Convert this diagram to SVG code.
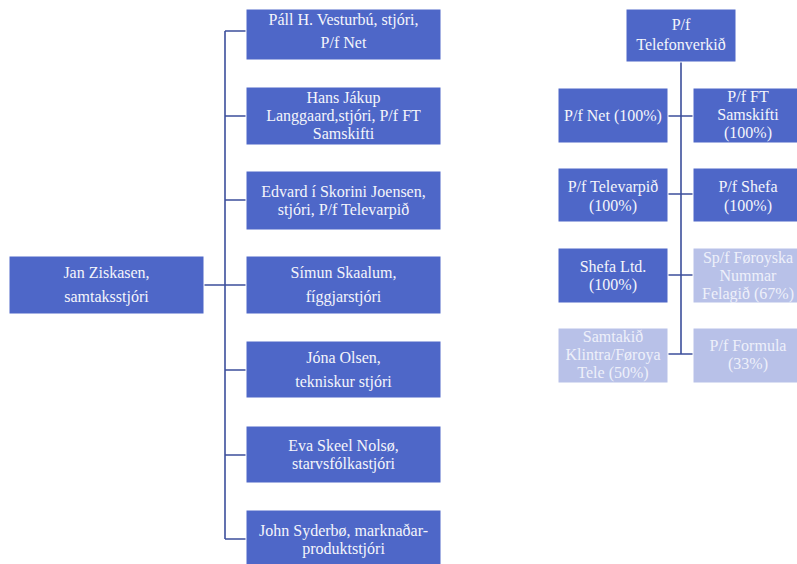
<svg xmlns="http://www.w3.org/2000/svg" width="797" height="564" viewBox="0 0 797 564">
<style>
.box{fill:#4e67c8;stroke:#ffffff;stroke-width:1}
.lt{fill:#b8c1e8;stroke:#ffffff;stroke-width:1}
.t{font-family:'Liberation Serif','DejaVu Serif','Times New Roman',serif;font-size:16px;fill:#f4f5fb;text-anchor:middle}
.ltx{fill:#eef0fa}
.con{stroke:#3c4f9c;stroke-width:1.6;fill:none}
</style>
<rect width="797" height="564" fill="#ffffff"/>
<g id="connectors">
<path class="con" d="M204,285 H225 M225,31 V539 M225,31 H246 M225,116 H246 M225,200 H246 M225,285 H246 M225,370 H246 M225,455 H246 M225,539 H246"/>
<path class="con" d="M681,62 V354 M668,116 H693 M668,194 H693 M668,275 H693 M668,354 H693"/>
</g>
<g class="t" font-family="Liberation Serif, DejaVu Serif, serif">
<g id="n-jan"><rect class="box" x="9" y="256" width="195" height="58"/><text x="106.5" y="278">Jan Ziskasen,</text><text x="106.5" y="302">samtaksstjóri</text></g>
<g id="n-pall"><rect class="box" x="246" y="9" width="195" height="51"/><text x="343.5" y="25">Páll H. Vesturbú, stjóri,</text><text x="343.5" y="48">P/f Net</text></g>
<g id="n-hans"><rect class="box" x="246" y="87" width="195" height="58"/><text x="343.5" y="102.5">Hans Jákup</text><text x="343.5" y="120.5">Langgaard,stjóri, P/f FT</text><text x="343.5" y="138.5">Samskifti</text></g>
<g id="n-edvard"><rect class="box" x="246" y="171" width="195" height="59"/><text x="343.5" y="196.5">Edvard í Skorini Joensen,</text><text x="343.5" y="215">stjóri, P/f Televarpið</text></g>
<g id="n-simun"><rect class="box" x="246" y="256" width="195" height="58"/><text x="343.5" y="278">Símun Skaalum,</text><text x="343.5" y="302">fíggjarstjóri</text></g>
<g id="n-jona"><rect class="box" x="246" y="341" width="195" height="57"/><text x="343.5" y="363">Jóna Olsen,</text><text x="343.5" y="387">tekniskur stjóri</text></g>
<g id="n-eva"><rect class="box" x="246" y="426" width="195" height="57"/><text x="343.5" y="450.5">Eva Skeel Nolsø,</text><text x="343.5" y="468.5">starvsfólkastjóri</text></g>
<g id="n-john"><rect class="box" x="246" y="510" width="195" height="60"/><text x="343.5" y="535.5">John Syderbø, marknaðar-</text><text x="343.5" y="553.5">produktstjóri</text></g>
<g id="n-telefon"><rect class="box" x="626" y="9" width="110" height="53"/><text x="681" y="30">P/f</text><text x="681" y="50">Telefonverkið</text></g>
<g id="n-net"><rect class="box" x="558" y="88" width="110" height="55"/><text x="613" y="121">P/f Net (100%)</text></g>
<g id="n-ft"><rect class="box" x="693" y="88" width="110" height="55"/><text x="748" y="102">P/f FT</text><text x="748" y="120">Samskifti</text><text x="748" y="138">(100%)</text></g>
<g id="n-televarp"><rect class="box" x="558" y="168" width="110" height="54"/><text x="613" y="192">P/f Televarpið</text><text x="613" y="211">(100%)</text></g>
<g id="n-shefa"><rect class="box" x="693" y="168" width="110" height="54"/><text x="748" y="192">P/f Shefa</text><text x="748" y="211">(100%)</text></g>
<g id="n-shefaltd"><rect class="box" x="558" y="248" width="110" height="55"/><text x="613" y="272">Shefa Ltd.</text><text x="613" y="290">(100%)</text></g>
<g id="n-nummar"><rect class="lt" x="693" y="248" width="110" height="55"/><text class="ltx" x="748" y="263">Sp/f Føroyska</text><text class="ltx" x="748" y="281">Nummar</text><text class="ltx" x="748" y="299">Felagið (67%)</text></g>
<g id="n-klintra"><rect class="lt" x="558" y="328" width="110" height="55"/><text class="ltx" x="613" y="342">Samtakið</text><text class="ltx" x="613" y="360">Klintra/Føroya</text><text class="ltx" x="613" y="378">Tele (50%)</text></g>
<g id="n-formula"><rect class="lt" x="693" y="328" width="110" height="55"/><text class="ltx" x="748" y="351">P/f Formula</text><text class="ltx" x="748" y="369">(33%)</text></g>
</g>
</svg>
